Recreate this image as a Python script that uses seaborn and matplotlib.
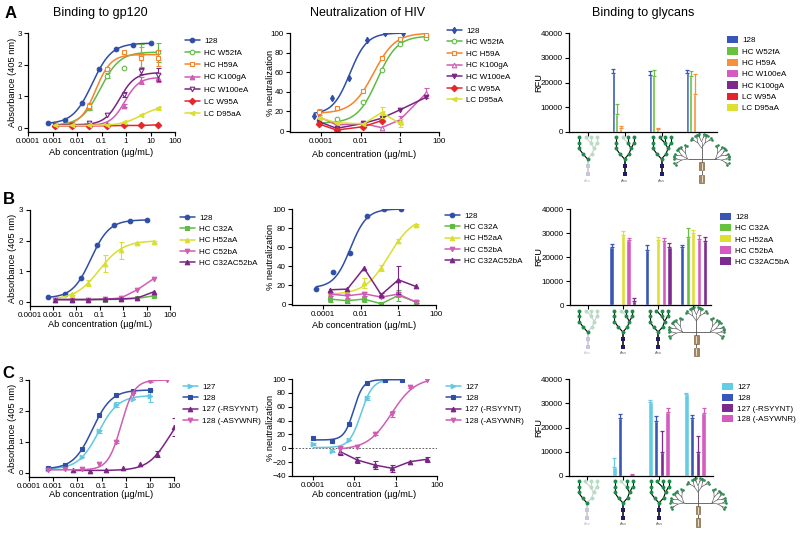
import numpy as np
import pandas as pd
import matplotlib
matplotlib.use("Agg")
import matplotlib.pyplot as plt
import seaborn as sns
from matplotlib.lines import Line2D
from matplotlib.patches import Patch, Rectangle
from matplotlib.ticker import NullLocator

sns.set_theme(style="ticks")
plt.rcParams.update({
    "font.family": ["Liberation Sans", "DejaVu Sans"],
    "axes.edgecolor": "black",
    "axes.linewidth": 0.9,
    "xtick.color": "black",
    "ytick.color": "black",
    "xtick.major.size": 3,
    "ytick.major.size": 3,
    "xtick.major.width": 0.8,
    "ytick.major.width": 0.8,
    "xtick.major.pad": 1.5,
    "ytick.major.pad": 1.5,
    "xtick.labelsize": 5.8,
    "ytick.labelsize": 5.8,
    "text.color": "black",
    "axes.labelcolor": "black",
})

W, H = 800, 539

# colours
BLUE = "#2f4ea6"
GREEN = "#5fbb45"
ORANGE = "#f5842b"
PINK = "#d05db4"
PURPLE = "#7a2583"
RED = "#e5262b"
YELLOW = "#d9df2e"
CYAN = "#62c8e0"

# ---------------- data: binding to gp120 (ELISA) ----------------
X_5FOLD_10 = [0.00064, 0.0032, 0.016, 0.08, 0.4, 2, 10]
X_5FOLD_20 = [0.00128, 0.0064, 0.032, 0.16, 0.8, 4, 20]
X_5FOLD_50 = [0.00064, 0.0032, 0.016, 0.08, 0.4, 2, 10, 50]
X_5FOLD_100 = [0.0064, 0.032, 0.16, 0.8, 4, 20, 100]

ELISA_128 = [0.15, 0.26, 0.78, 1.86, 2.50, 2.63, 2.67]
FIT_128 = [0.13, 2.68, 0.042, 1.1]          # bottom, top, EC50, hill

A1_W52FA = [0.08, 0.12, 0.63, 1.65, 1.89, 2.29, 2.40]
A1_W52FA_ERR = [0, 0, 0.05, 0.08, 0, 0.35, 0.3]
A1_W52FA_FIT = [0.08, 2.40, 0.09, 1.1]
A1_H59A = [0.08, 0.10, 0.70, 1.86, 2.39, 2.20, 2.20]
A1_H59A_ERR = [0, 0, 0.1, 0.05, 0, 0.35, 0.25]
A1_H59A_FIT = [0.08, 2.32, 0.058, 1.4]
A1_K100GA = [0.08, 0.10, 0.10, 0.12, 0.70, 1.50, 1.58]
A1_K100GA_ERR = [0, 0, 0, 0, 0.05, 0.1, 0.12]
A1_K100GA_FIT = [0.08, 1.60, 0.9, 1.5]
A1_W100EA = [0.10, 0.10, 0.16, 0.40, 1.05, 1.79, 1.68]
A1_W100EA_ERR = [0, 0, 0, 0, 0.08, 0.1, 0.2]
A1_W100EA_FIT = [0.10, 1.75, 0.55, 1.4]
A1_W95A = [0.07, 0.07, 0.07, 0.07, 0.08, 0.08, 0.10]
A1_D95AA = [0.08, 0.08, 0.08, 0.10, 0.20, 0.42, 0.62]
A1_D95AA_ERR = [0, 0, 0, 0, 0, 0, 0.05]
A1_D95AA_FIT = [0.08, 0.70, 4.0, 1.1]

B1_C32A = [0.08, 0.08, 0.08, 0.08, 0.09, 0.12, 0.20]
B1_H52AA = [0.10, 0.25, 0.62, 1.25, 1.68, 1.92, 1.97]
B1_H52AA_ERR = [0, 0.03, 0.1, 0.28, 0.27, 0.04, 0.03]
B1_H52AA_FIT = [0.08, 2.0, 0.095, 0.86]
B1_C52BA = [0.08, 0.08, 0.08, 0.09, 0.13, 0.40, 0.76]
B1_C32AC52BA = [0.08, 0.08, 0.08, 0.09, 0.10, 0.13, 0.33]

C1_127 = [0.14, 0.19, 0.52, 1.35, 2.20, 2.38, 2.48]
C1_127_ERR = [0, 0, 0, 0.05, 0.08, 0, 0.2]
C1_127_FIT = [0.12, 2.50, 0.074, 1.05]
C1_127_RSYYNT = [0.09, 0.05, 0.10, 0.15, 0.28, 0.60, 1.48]
C1_127_RSYYNT_ERR = [0, 0, 0, 0, 0, 0.1, 0.28]
C1_127_RSYYNT_FIT = [0.08, 2.2, 60.0, 1.0]
C1_128_ASYWNR = [0.10, 0.12, 0.12, 0.30, 1.00, 2.55, 2.98, 3.00]
C1_128_ASYWNR_ERR = [0, 0, 0, 0, 0.04, 0, 0.05, 0]
C1_128_ASYWNR_FIT = [0.10, 3.0, 0.65, 1.6]

# ---------------- data: neutralization of HIV ----------------
X_NEUT_128 = [4.3e-5, 3.4e-4, 2.7e-3, 0.022, 0.175, 1.4]
NEUT_128 = [15.4, 34.0, 54.0, 92.5, 99.7, 99.7]
NEUT_128_FIT = [17, 100, 10 ** -2.55, 1.0]

X_A2 = [7.4e-5, 6.0e-4, 0.0138, 0.117, 1.0, 22.4]
A2_W52FA = [9.0, 12.3, 29.4, 61.8, 88.7, 94.9]
A2_W52FA_FIT = [8, 97, 10 ** -1.15, 0.85]
A2_H59A = [19.1, 23.9, 41.3, 74.4, 93.9, 98.0]
A2_H59A_ERR = [3, 0, 0, 0, 0, 0]
A2_H59A_FIT = [18, 100, 10 ** -1.34, 0.79]
A2_K100GA = [14.7, 6.1, 7.8, 3.4, 11.3, 38.6]
A2_K100GA_ERR = [0, 0, 0, 0, 4, 5]
A2_W100EA = [9.6, 2.7, 7.8, 13.0, 21.5, 34.5]
A2_W95A = [7.2, 1.0, 4.4, 10.6]
A2_D95AA = [13.6, 8.5, 7.2, 18.8, 7.8]
A2_D95AA_ERR = [0, 0, 0, 6, 4]

X_B2 = [2.3e-4, 1.95e-3, 0.015, 0.123, 1.0, 8.5]
B2_C32A = [5.2, 3.5, 5.2, 0.3, 9.1, 2.4]
B2_C32A_ERR = [3, 2, 3, 1.5, 6, 1.5]
B2_H52AA = [11.5, 14.0, 22.0, 37.8, 66.4, 83.2]
B2_H52AA_ERR = [0, 0, 5, 3, 2, 1]
B2_H52AA_FIT = [10, 92, 10 ** -0.5, 0.68]
B2_C52BA = [10.5, 8.7, 10.8, 7.3, 10.5, 2.0]
B2_C52BA_ERR = [2, 2, 2, 1, 2, 1]
B2_C32AC52BA = [15.0, 15.7, 37.8, 9.8, 25.5, 18.5]
B2_C32AC52BA_ERR = [0, 0, 0, 2, 15, 0]

X_C2_WT = [1.07e-4, 8.3e-4, 5.6e-3, 0.041, 0.31, 2.1]
X_C2_DEL = [2.1e-3, 0.014, 0.10, 0.71, 5.0, 32.0]
C2_128 = [15.5, 10.6, 35.0, 94.0, 99.0, 99.0]
C2_128_FIT = [12, 99, 10 ** -2.02, 1.9]
C2_127 = [6.3, -3.4, 12.0, 72.5, 98.0]
C2_127_ERR = [2, 2, 0, 3, 0]
C2_127_FIT = [1, 99, 10 ** -1.67, 1.55]
C2_127_RSYYNT = [-4.8, -16.9, -24.2, -29.0, -19.3, -15.9]
C2_127_RSYYNT_ERR = [5, 5, 6, 5, 0, 4]
C2_128_ASYWNR = [-1.5, 2.4, 20.8, 49.3, 88.4, 99.0]
C2_128_ASYWNR_ERR = [5, 0, 2, 4, 2, 0]
C2_128_ASYWNR_FIT = [-2, 102, 10 ** -0.2, 0.75]

# ---------------- data: binding to glycans (RFU) ----------------
GLYCANS = ["glycan 1", "glycan 2", "glycan 3", "glycan 4"]

A3_NAMES = ["128", "HC W52fA", "HC H59A", "HC W100eA", "HC K100gA", "LC W95A", "LC D95aA"]
A3_COLORS = ["#3756b8", "#69c23e", "#f7903a", "#d45cc0", "#7b2a8e", "#e8222a", "#dde030"]
A3_RFU = [[0, 24000, 23000, 24000],
          [0, 7200, 22800, 22500],
          [0, 1800, 1200, 15500],
          [0, 0, 0, 0], [0, 0, 0, 0], [0, 0, 0, 0], [0, 0, 0, 0]]
A3_ERR = [[0, 1500, 1800, 1200],
          [0, 4000, 2200, 2000],
          [0, 500, 300, 7800],
          [0, 0, 0, 0], [0, 0, 0, 0], [0, 0, 0, 0], [0, 0, 0, 0]]

B3_NAMES = ["128", "HC C32A", "HC H52aA", "HC C52bA", "HC C32AC5bA"]
B3_COLORS = ["#3756b8", "#69c23e", "#dde030", "#d45cc0", "#7b2a8e"]
B3_RFU = [[200, 24000, 23000, 24000],
          [0, 0, 300, 28500],
          [0, 29000, 27000, 29800],
          [0, 27000, 26500, 27500],
          [0, 1500, 24000, 26800]]
B3_ERR = [[0, 1500, 1800, 1200],
          [0, 0, 0, 3500],
          [0, 2000, 1500, 1500],
          [0, 1000, 1500, 1800],
          [0, 1500, 1800, 1500]]

C3_NAMES = ["127", "128", "127 (-RSYYNT)", "128 (-ASYWNR)"]
C3_COLORS = ["#66cce3", "#3756b8", "#7b2a8e", "#d45cc0"]
C3_RFU = [[0, 3800, 30500, 33800],
          [0, 24000, 22800, 24000],
          [300, 0, 10000, 9700],
          [0, 500, 26500, 26000]]
C3_ERR = [[0, 3500, 1000, 600],
          [0, 1500, 1800, 1200],
          [0, 0, 8500, 6800],
          [0, 500, 1500, 2000]]

LOG_TICKS = [1e-4, 1e-3, 1e-2, 1e-1, 1, 10, 100]
LOG_LABELS = ["0.0001", "0.001", "0.01", "0.1", "1", "10", "100"]
NEUT_TICKS = [1e-4, 1e-2, 1, 100]
NEUT_LABELS = ["0.0001", "0.01", "1", "100"]

fig = plt.figure(figsize=(W / 100, H / 100), dpi=100)

LABEL_FS = 6.7
LEGEND_FS = 5.8


def add_ax(box):
    l, t, r, b = box
    return fig.add_axes([l / W, 1 - b / H, (r - l) / W, (b - t) / H])


def prism_style(ax):
    sns.despine(ax=ax)
    ax.spines["left"].set_color("black")
    ax.spines["bottom"].set_color("black")
    ax.tick_params(direction="out", length=3, width=0.8, colors="black")
    ax.set_facecolor("white")


def set_labels(ax, box, xlab, ylab, xlab_cy, ylab_cx):
    l, t, r, b = box
    if xlab:
        ax.set_xlabel(xlab, fontsize=LABEL_FS)
        ax.xaxis.set_label_coords(0.5, (b - (xlab_cy - 4.8)) / (b - t))
    ax.set_ylabel(ylab, fontsize=LABEL_FS)
    ax.yaxis.set_label_coords((ylab_cx + 4.8 - l) / (r - l), 0.5)


def four_pl(x, p):
    bottom, top, ec50, hill = p
    return bottom + (top - bottom) / (1 + (ec50 / x) ** hill)


def draw_curves(ax, series):
    handles = []
    for label, xs, ys, err, fit, color, marker, hollow in series:
        xs = np.asarray(xs, float)
        ys = np.asarray(ys, float)
        if fit is not None:
            xf = np.logspace(np.log10(xs.min()), np.log10(xs.max()), 150)
            sns.lineplot(x=xf, y=four_pl(xf, fit), color=color, lw=1.1, ax=ax)
        else:
            sns.lineplot(x=xs, y=ys, color=color, lw=1.1, ax=ax)
        if err is not None:
            e = np.asarray(err, float)
            m = e > 0
            ax.errorbar(xs[m], ys[m], yerr=e[m], fmt="none", ecolor=color,
                        elinewidth=0.8, capsize=1.8, capthick=0.8)
        fc = "white" if hollow else color
        sns.lineplot(x=xs, y=ys, color=color, marker=marker, markersize=3.3,
                     markerfacecolor=fc, markeredgecolor=color, markeredgewidth=0.8,
                     linestyle="none", ax=ax)
        handles.append(Line2D([], [], color=color, lw=1.1, marker=marker, ms=3.3,
                              mfc=fc, mec=color, mew=0.8))
    return handles


def put_legend(ax, handles, labels, x, top, patches=False, spacing=0.3):
    kw = dict(handlelength=1.4, handleheight=1.0) if patches else dict(handlelength=1.85)
    ax.legend(handles, labels, loc="upper left", bbox_to_anchor=(x / W, 1 - top / H),
              bbox_transform=fig.transFigure, frameon=False, fontsize=LEGEND_FS,
              borderpad=0, borderaxespad=0, handletextpad=0.5, labelspacing=spacing, **kw)


def log_axis(ax, xlim, ticks, labels):
    ax.set_xscale("log")
    ax.set_xlim(*xlim)
    ax.set_xticks(ticks)
    ax.set_xticklabels(labels)
    ax.xaxis.set_minor_locator(NullLocator())


def draw_bars(ax, names, values, errs, colors, width, gap):
    rows = []
    for n, vals in zip(names, values):
        for g, v in zip(GLYCANS, vals):
            rows.append({"glycan": g, "antibody": n, "rfu": v})
    df = pd.DataFrame(rows)
    sns.barplot(data=df, x="glycan", y="rfu", hue="antibody", order=GLYCANS,
                hue_order=names, palette=dict(zip(names, colors)), saturation=1,
                width=width, gap=gap, errorbar=None, legend=False, ax=ax)
    for cont, e, c in zip(ax.containers, errs, colors):
        xs = np.array([p.get_x() + p.get_width() / 2 for p in cont])
        hs = np.array([p.get_height() for p in cont])
        e = np.asarray(e, float)
        m = e > 0
        if m.any():
            ax.errorbar(xs[m], hs[m], yerr=[np.zeros(m.sum()), e[m]], fmt="none",
                        ecolor=c, elinewidth=0.9, capsize=1.5, capthick=0.9)
    ax.set_xlim(-0.5, 3.5)
    ax.set_ylim(0, 40000)
    ax.set_yticks([0, 10000, 20000, 30000, 40000])
    ax.set_xticks(range(4))
    ax.set_xticklabels([])
    ax.set_xlabel("")
    handles = [Patch(facecolor=c, edgecolor="none") for c in colors]
    return handles


# ---------------- glycan pictograms ----------------
MAN_NODES = {
    "c": (0, 24), "l1": (-4.5, 19), "l2": (-8.5, 13.5), "l3": (-8.5, 8), "l4": (-8.5, 2.5),
    "r1": (4.5, 19), "r2": (6.5, 13.5), "ra": (3.5, 8), "rb": (9.5, 8),
    "ta": (3.5, 2.5), "tb": (9.5, 2.5), "tx": (-2, 2.5),
}
MAN_EDGES = [("c", "l1"), ("l1", "l2"), ("l2", "l3"), ("l3", "l4"), ("c", "r1"),
             ("r1", "r2"), ("r2", "ra"), ("r2", "rb"), ("ra", "ta"), ("rb", "tb"), ("ra", "tx")]
DARK_G, LIGHT_G = "#1f8a4c", "#b8dcc3"
DARK_S, LIGHT_S = "#211c63", "#c6c6dc"


def draw_mannose(iax, cx, top, kind):
    if kind == 0:
        dark = {"c", "l1", "l2", "l3", "l4"}
    elif kind == 1:
        dark = set(MAN_NODES) - {"tx"}
    else:
        dark = set(MAN_NODES)
    stem_dark = kind != 0
    s1, s2 = top + 31, top + 39
    sc = "black" if stem_dark else "#c8c8c8"
    iax.plot([cx, cx], [top + 24, s2], color=sc, lw=1.1, zorder=1)
    iax.scatter([cx, cx], [s1, s2], marker="s", s=9,
                color=DARK_S if stem_dark else LIGHT_S, zorder=3, linewidths=0)
    iax.text(cx, top + 45.5, "Asn", fontsize=2.8, ha="center", va="center",
             color="#555555" if stem_dark else "#bbbbbb")
    for a, b in MAN_EDGES:
        (x1, y1), (x2, y2) = MAN_NODES[a], MAN_NODES[b]
        ok = a in dark and b in dark
        iax.plot([cx + x1, cx + x2], [top + y1, top + y2],
                 color="black" if ok else "#cfcfcf", lw=0.8, zorder=1)
    for k, (x, y) in MAN_NODES.items():
        iax.scatter([cx + x], [top + y], s=8, color=DARK_G if k in dark else LIGHT_G,
                    zorder=3, linewidths=0)


def branch(iax, x, y, ang, length, depth, spread, pts):
    x2 = x + length * np.cos(np.radians(ang))
    y2 = y - length * np.sin(np.radians(ang))
    iax.plot([x, x2], [y, y2], color="#555555", lw=0.45, zorder=1)
    if depth == 0:
        pts.append((x2, y2))
        return
    for s in (-spread, spread):
        branch(iax, x2, y2, ang + s, length * 0.72, depth - 1, spread * 0.8, pts)


def draw_dendrimer(iax, cx, top):
    y0 = top + 24
    pts = []
    iax.plot([cx - 14, cx + 14], [y0, y0], color="#555555", lw=0.6, zorder=1)
    arms = [((cx - 14, y0), (110, 150, 190)),
            ((cx, y0 - 11), (55, 90, 125)),
            ((cx + 14, y0), (-10, 30, 70))]
    iax.plot([cx, cx], [y0, y0 - 11], color="#555555", lw=0.6, zorder=1)
    for (bx, by), angs in arms:
        for a in angs:
            branch(iax, bx, by, a, 6.3, 2, 24, pts)
    px, py = zip(*pts)
    iax.scatter(px, py, s=3.5, color="#2a8a50", zorder=3, linewidths=0)
    iax.plot([cx, cx], [y0, top + 47], color="#555555", lw=0.6, zorder=1)
    for yy in (top + 27, top + 39.5):
        iax.add_patch(Rectangle((cx - 2.2, yy), 4.4, 8.5, facecolor="#a9875a",
                                edgecolor="#6e5432", lw=0.4, zorder=2))
        iax.plot([cx, cx], [yy + 0.6, yy + 7.9], color="white", lw=0.5, zorder=3)


def draw_glycan_icons(ax, box):
    l, t, r, b = box
    iax = fig.add_axes([(l - 20) / W, 1 - (b + 52) / H, (r - l + 50) / W, 52 / H])
    iax.set_xlim(l - 20, r + 30)
    iax.set_ylim(b + 52, b)
    iax.axis("off")
    fig.canvas.draw()
    for i in range(4):
        cx = ax.transData.transform((i, 0))[0]
        if i < 3:
            draw_mannose(iax, cx, b + 3, i)
        else:
            draw_dendrimer(iax, cx + 3, b + 3)


# ---------------- panel boxes (left, top, right, bottom) in px ----------------
BOX_A1, BOX_A2, BOX_A3 = (28, 33, 175, 132), (290, 33, 439, 132), (569, 33, 717, 132)
BOX_B1, BOX_B2, BOX_B3 = (29.5, 210, 170, 306), (292, 209, 436, 305), (570, 209, 711, 305)
BOX_C1, BOX_C2, BOX_C3 = (29, 380, 174, 477), (292, 379, 437, 476), (569, 379, 713, 476)

XLAB = "Ab concentration (µg/mL)"

# ---- row A ----
ax = add_ax(BOX_A1)
prism_style(ax)
series = [
    ("128", X_5FOLD_10, ELISA_128, None, FIT_128, BLUE, "o", False),
    ("HC W52fA", X_5FOLD_20, A1_W52FA, A1_W52FA_ERR, A1_W52FA_FIT, GREEN, "o", True),
    ("HC H59A", X_5FOLD_20, A1_H59A, A1_H59A_ERR, A1_H59A_FIT, ORANGE, "s", True),
    ("HC K100gA", X_5FOLD_20, A1_K100GA, A1_K100GA_ERR, A1_K100GA_FIT, PINK, "^", False),
    ("HC W100eA", X_5FOLD_20, A1_W100EA, A1_W100EA_ERR, A1_W100EA_FIT, PURPLE, "v", True),
    ("LC W95A", X_5FOLD_20, A1_W95A, None, None, RED, "D", False),
    ("LC D95aA", X_5FOLD_20, A1_D95AA, A1_D95AA_ERR, A1_D95AA_FIT, YELLOW, "<", False),
]
h = draw_curves(ax, series)
log_axis(ax, (1e-4, 100), LOG_TICKS, LOG_LABELS)
ax.set_ylim(-0.126, 3)
ax.set_yticks([0, 1, 2, 3])
set_labels(ax, BOX_A1, XLAB, "Absorbance (405 nm)", 153, 12)
put_legend(ax, h, [s[0] for s in series], 185, 37, spacing=0.57)

ax = add_ax(BOX_A2)
prism_style(ax)
series = [
    ("128", X_NEUT_128, NEUT_128, None, NEUT_128_FIT, BLUE, "d", False),
    ("HC W52fA", X_A2, A2_W52FA, None, A2_W52FA_FIT, GREEN, "o", True),
    ("HC H59A", X_A2, A2_H59A, A2_H59A_ERR, A2_H59A_FIT, ORANGE, "s", True),
    ("HC K100gA", X_A2, A2_K100GA, A2_K100GA_ERR, None, PINK, "^", True),
    ("HC W100eA", X_A2, A2_W100EA, None, None, PURPLE, "v", False),
    ("LC W95A", X_A2[:4], A2_W95A, None, None, RED, "D", False),
    ("LC D95aA", X_A2[:5], A2_D95AA, A2_D95AA_ERR, None, YELLOW, "<", False),
]
h = draw_curves(ax, series)
log_axis(ax, (10 ** -5.6, 100), NEUT_TICKS, NEUT_LABELS)
ax.set_ylim(-1, 100)
ax.set_yticks([0, 20, 40, 60, 80, 100])
set_labels(ax, BOX_A2, XLAB, "% neutralization", 155, 270)
put_legend(ax, h, [s[0] for s in series], 447, 27, spacing=0.49)

ax = add_ax(BOX_A3)
prism_style(ax)
h = draw_bars(ax, A3_NAMES, A3_RFU, A3_ERR, A3_COLORS, 0.72, 0.22)
set_labels(ax, BOX_A3, None, "RFU", None, 538)
put_legend(ax, h, A3_NAMES, 727, 36, patches=True, spacing=0.37)
draw_glycan_icons(ax, BOX_A3)

# ---- row B ----
ax = add_ax(BOX_B1)
prism_style(ax)
series = [
    ("128", X_5FOLD_10, ELISA_128, None, FIT_128, BLUE, "o", False),
    ("HC C32A", X_5FOLD_20, B1_C32A, None, None, GREEN, "s", False),
    ("HC H52aA", X_5FOLD_20, B1_H52AA, B1_H52AA_ERR, B1_H52AA_FIT, YELLOW, "^", False),
    ("HC C52bA", X_5FOLD_20, B1_C52BA, None, None, PINK, "v", False),
    ("HC C32AC52bA", X_5FOLD_20, B1_C32AC52BA, None, None, PURPLE, "^", False),
]
h = draw_curves(ax, series)
log_axis(ax, (1e-4, 100), LOG_TICKS, LOG_LABELS)
ax.set_ylim(-0.13, 3)
ax.set_yticks([0, 1, 2, 3])
set_labels(ax, BOX_B1, XLAB, "Absorbance (405 nm)", 325, 12)
put_legend(ax, h, [s[0] for s in series], 180, 214, spacing=0.46)

ax = add_ax(BOX_B2)
prism_style(ax)
series = [
    ("128", X_NEUT_128, NEUT_128, None, NEUT_128_FIT, BLUE, "o", False),
    ("HC C32A", X_B2, B2_C32A, B2_C32A_ERR, None, GREEN, "s", False),
    ("HC H52aA", X_B2, B2_H52AA, B2_H52AA_ERR, B2_H52AA_FIT, YELLOW, "^", False),
    ("HC C52bA", X_B2, B2_C52BA, B2_C52BA_ERR, None, PINK, "v", False),
    ("HC C32AC52bA", X_B2, B2_C32AC52BA, B2_C32AC52BA_ERR, None, PURPLE, "^", False),
]
h = draw_curves(ax, series)
log_axis(ax, (10 ** -5.65, 100), NEUT_TICKS, NEUT_LABELS)
ax.set_ylim(-1, 100)
ax.set_yticks([0, 20, 40, 60, 80, 100])
set_labels(ax, BOX_B2, XLAB, "% neutralization", 326, 270)
put_legend(ax, h, [s[0] for s in series], 445, 212, spacing=0.46)

ax = add_ax(BOX_B3)
prism_style(ax)
h = draw_bars(ax, B3_NAMES, B3_RFU, B3_ERR, B3_COLORS, 0.8, 0.25)
set_labels(ax, BOX_B3, None, "RFU", None, 538)
put_legend(ax, h, B3_NAMES, 720, 213, patches=True, spacing=0.34)
draw_glycan_icons(ax, BOX_B3)

# ---- row C ----
ax = add_ax(BOX_C1)
prism_style(ax)
series = [
    ("127", X_5FOLD_10, C1_127, C1_127_ERR, C1_127_FIT, CYAN, ">", False),
    ("128", X_5FOLD_10, ELISA_128, None, FIT_128, BLUE, "s", False),
    ("127 (-RSYYNT)", X_5FOLD_100, C1_127_RSYYNT, C1_127_RSYYNT_ERR, C1_127_RSYYNT_FIT, PURPLE, "^", False),
    ("128 (-ASYWNR)", X_5FOLD_50, C1_128_ASYWNR, C1_128_ASYWNR_ERR, C1_128_ASYWNR_FIT, PINK, "v", False),
]
h = draw_curves(ax, series)
log_axis(ax, (1e-4, 100), LOG_TICKS, LOG_LABELS)
ax.set_ylim(-0.13, 3)
ax.set_yticks([0, 1, 2, 3])
set_labels(ax, BOX_C1, XLAB, "Absorbance (405 nm)", 495, 12)
put_legend(ax, h, [s[0] for s in series], 183, 383, spacing=0.47)

ax = add_ax(BOX_C2)
prism_style(ax)
ax.axhline(0, color="#444444", lw=0.6, ls=(0, (2, 2)), zorder=0)
series = [
    ("127", X_C2_WT[:5], C2_127, C2_127_ERR, C2_127_FIT, CYAN, ">", False),
    ("128", X_C2_WT, C2_128, None, C2_128_FIT, BLUE, "s", False),
    ("127 (-RSYYNT)", X_C2_DEL, C2_127_RSYYNT, C2_127_RSYYNT_ERR, None, PURPLE, "^", False),
    ("128 (-ASYWNR)", X_C2_DEL, C2_128_ASYWNR, C2_128_ASYWNR_ERR, C2_128_ASYWNR_FIT, PINK, "v", False),
]
h = draw_curves(ax, series)
log_axis(ax, (10 ** -5.0, 100), NEUT_TICKS, NEUT_LABELS)
ax.set_ylim(-40, 100)
ax.set_yticks(range(-40, 101, 20))
set_labels(ax, BOX_C2, XLAB, "% neutralization", 495, 270)
put_legend(ax, h, [s[0] for s in series], 446, 383, spacing=0.47)

ax = add_ax(BOX_C3)
prism_style(ax)
h = draw_bars(ax, C3_NAMES, C3_RFU, C3_ERR, C3_COLORS, 0.64, 0.2)
set_labels(ax, BOX_C3, None, "RFU", None, 538)
put_legend(ax, h, C3_NAMES, 722, 383, patches=True, spacing=0.29)
draw_glycan_icons(ax, BOX_C3)

# ---- titles and panel letters ----
for txt, x in [("Binding to gp120", 100), ("Neutralization of HIV", 368), ("Binding to glycans", 643)]:
    fig.text(x / W, 1 - 13 / H, txt, fontsize=9, ha="center", va="center")
for txt, x, y in [("A", 10.5, 13), ("B", 8.5, 200), ("C", 8.5, 373)]:
    fig.text(x / W, 1 - y / H, txt, fontsize=12, fontweight="bold", ha="center", va="center")

fig.savefig("out.png", dpi=100, facecolor="white")
